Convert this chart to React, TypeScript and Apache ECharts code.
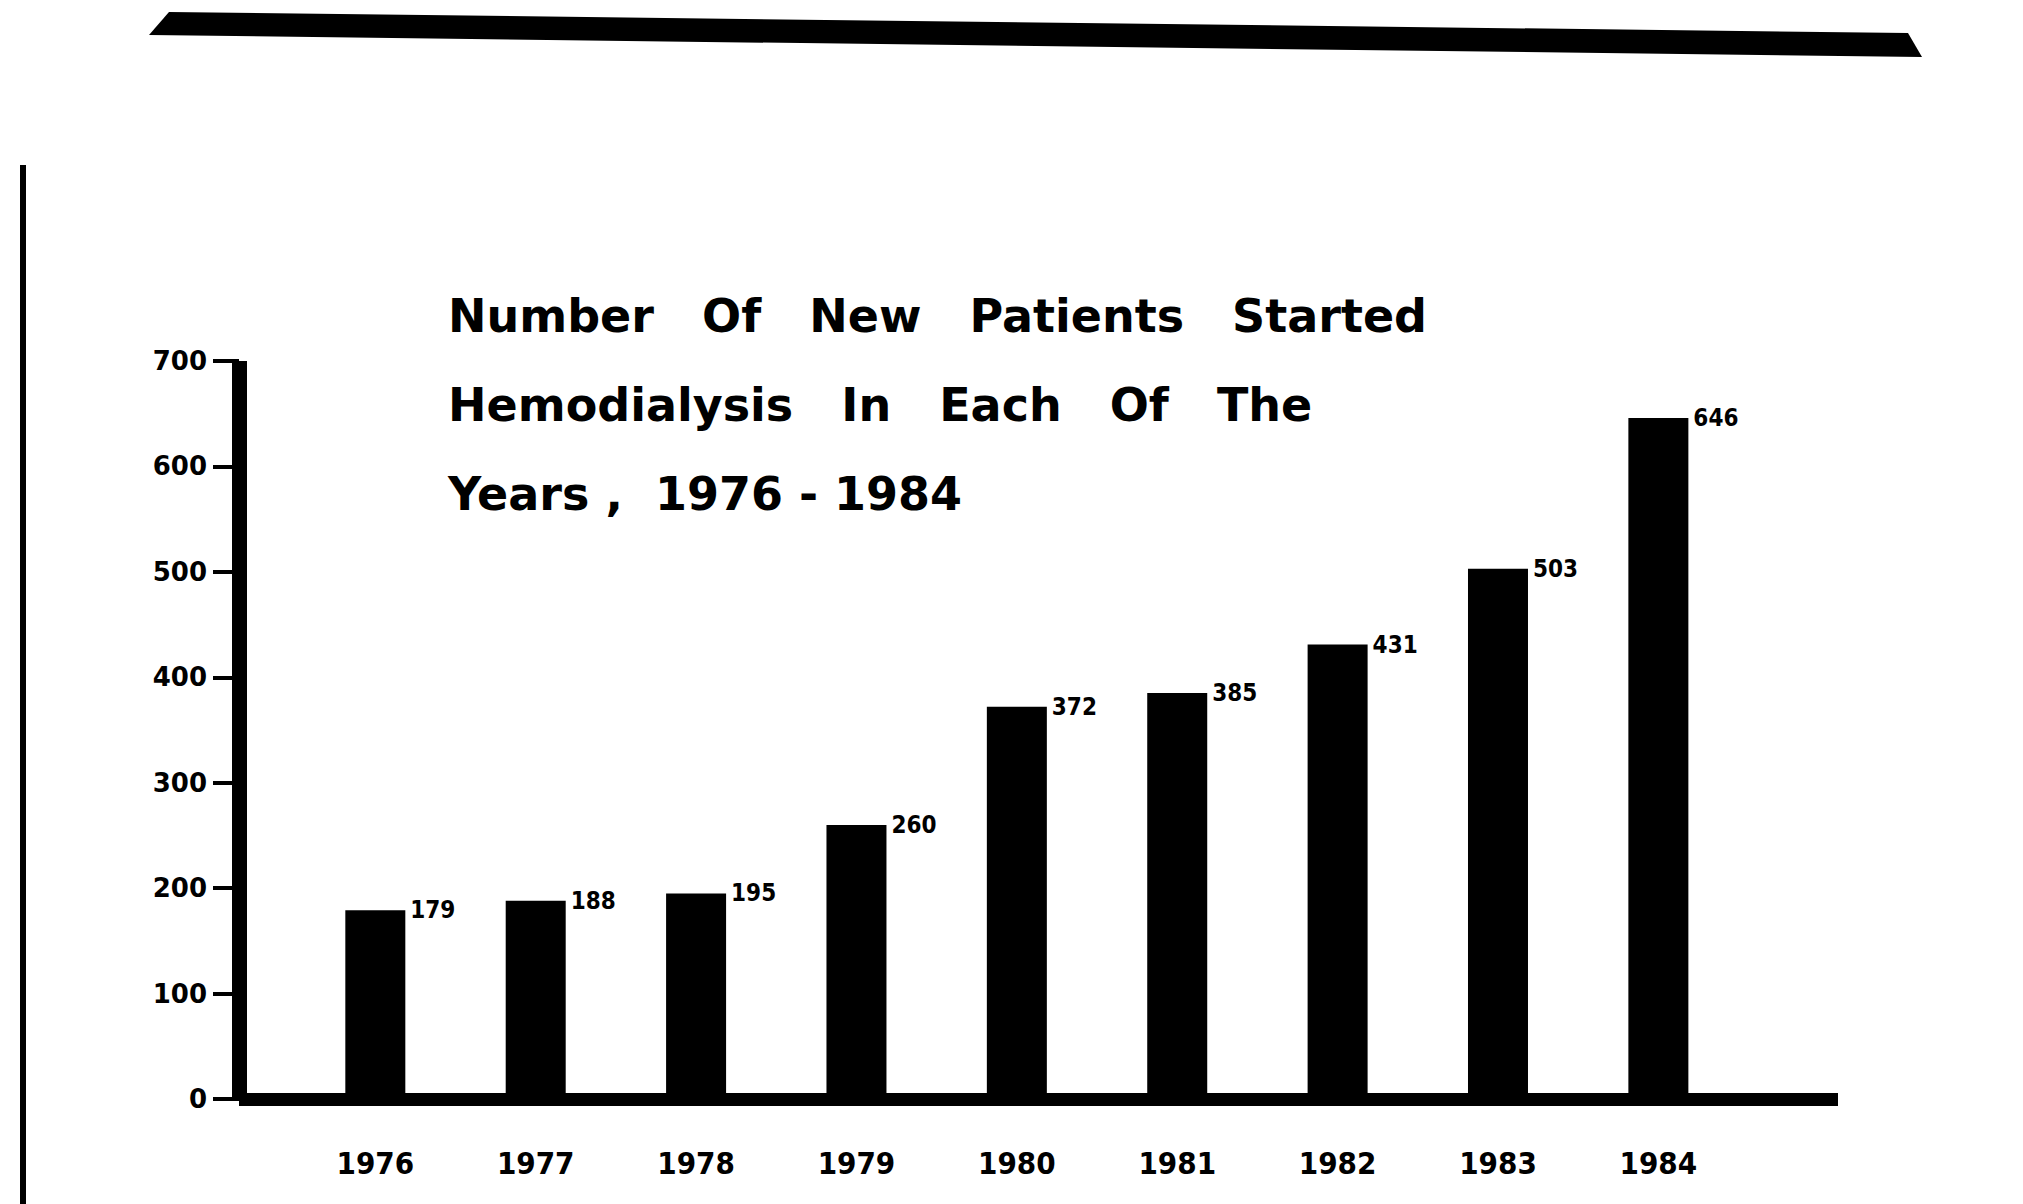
import React, { useEffect, useRef } from "react";
import * as echarts from "echarts";

const years: number[] = [1976, 1977, 1978, 1979, 1980, 1981, 1982, 1983, 1984];
const patients: number[] = [179, 188, 195, 260, 372, 385, 431, 503, 646];
const yTicks = { min: 0, max: 700, interval: 100 };
const titleLines: string[] = [
  "Number   Of   New   Patients   Started",
  "Hemodialysis   In   Each   Of   The",
  "Years ,  1976 - 1984",
];

export default function App() {
  const ref = useRef<HTMLDivElement>(null);
  useEffect(() => {
    document.body.style.margin = "0";
    if (!ref.current) return;
    const chart = echarts.init(ref.current, null, { renderer: "svg" });
    chart.setOption({
      animation: false,
      backgroundColor: "#ffffff",
      title: {
        text: titleLines.join("\n"),
        left: 443,
        top: 266,
        textStyle: {
          fontFamily: "DejaVu Sans",
          fontWeight: "bold",
          fontSize: 46,
          lineHeight: 89,
          color: "#000",
        },
      },
      grid: { left: 239, right: 185, top: 361, bottom: 105, containLabel: false },
      xAxis: {
        type: "value",
        min: 1975.15,
        max: 1985.12,
        splitLine: { show: false },
        axisTick: { show: false },
        axisLine: { show: true, onZero: false, lineStyle: { color: "#000", width: 13, cap: "butt" } },
        axisLabel: {
          customValues: years,
          formatter: (v: number) => String(Math.round(v)),
          margin: 48,
          fontFamily: "DejaVu Sans Condensed",
          fontWeight: "bold",
          fontSize: 31,
          color: "#000",
        },
      },
      yAxis: {
        type: "value",
        min: yTicks.min,
        max: yTicks.max,
        interval: yTicks.interval,
        splitLine: { show: false },
        axisLine: { show: true, lineStyle: { color: "#000", width: 15, cap: "butt" } },
        axisTick: { show: true, length: 26, lineStyle: { color: "#000", width: 4 } },
        axisLabel: {
          margin: 32,
          fontFamily: "DejaVu Sans",
          fontWeight: "bold",
          fontSize: 26,
          color: "#000",
        },
      },
      series: [
        {
          type: "bar",
          barWidth: 60,
          data: years.map((y, i) => [y, patients[i]]),
          itemStyle: { color: "#000" },
          label: {
            show: true,
            position: ["100%", 0],
            offset: [5, 0],
            align: "left",
            verticalAlign: "middle",
            formatter: (p: any) => String(p.value[1]),
            fontFamily: "DejaVu Sans Condensed",
            fontWeight: "bold",
            fontSize: 24,
            color: "#000",
          },
        },
      ],
      graphic: [
        {
          type: "polygon",
          shape: { points: [[169, 12], [1908, 33], [1922, 57], [149, 35]] },
          style: { fill: "#000" },
        },
        {
          type: "line",
          shape: { x1: 23, y1: 165, x2: 23, y2: 1204 },
          style: { stroke: "#000", lineWidth: 6 },
        },
      ],
    });
    return () => chart.dispose();
  }, []);
  return <div ref={ref} style={{ width: 2023, height: 1204 }} />;
}
